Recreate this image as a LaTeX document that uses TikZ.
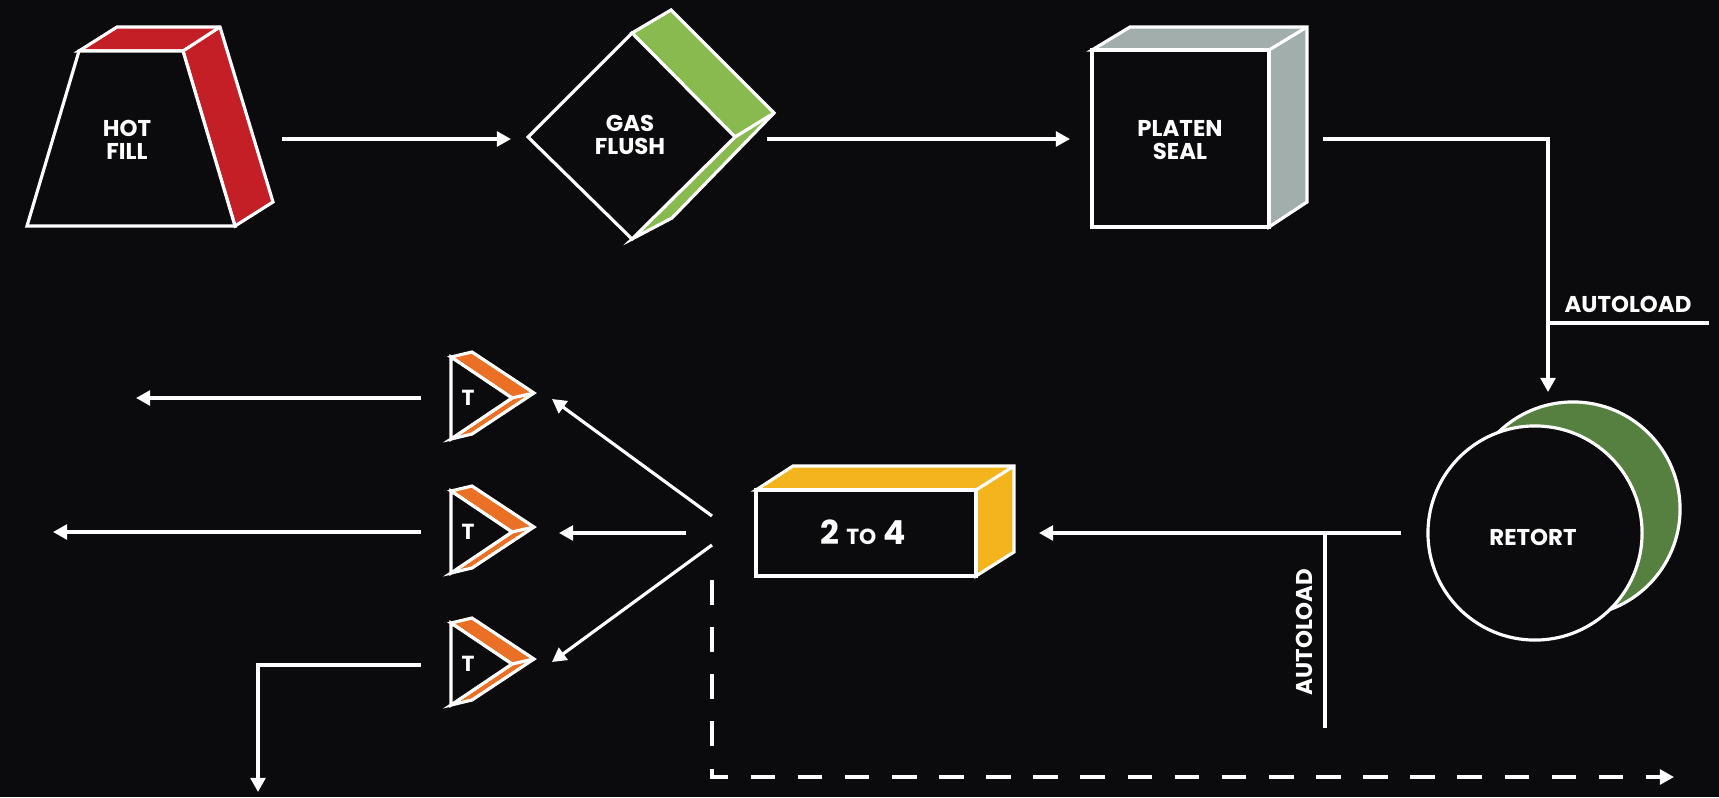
\documentclass[tikz,border=0pt]{standalone}
\usepackage{fontspec}
\setmainfont{Poppins}
\usepackage{xcolor}
\usetikzlibrary{arrows.meta}
\definecolor{bgblack}{RGB}{11,11,13}
\definecolor{fillred}{RGB}{196,31,38}
\definecolor{flushgreen}{RGB}{136,186,80}
\definecolor{sealgray}{RGB}{162,174,171}
\definecolor{retortgreen}{RGB}{86,128,63}
\definecolor{boxyellow}{RGB}{244,180,30}
\definecolor{temporange}{RGB}{234,112,37}

\begin{document}
\begin{tikzpicture}[x=0.01cm,y=-0.01cm,line width=0.9pt,
    >={Triangle[length=4pt,width=4.2pt]},
    lbl/.style={text=white,font=\bfseries\fontsize{6.5}{6.7}\selectfont,align=center,inner sep=0pt},
    face/.style={draw=white},
    flow/.style={->,white}]
  \fill[bgblack] (0,0) rectangle (1719,797);
  \useasboundingbox (0,0) rectangle (1719,797);

  % hot fill
  \filldraw[face,fill=fillred] (79,51) -- (117,27) -- (220,27) -- (273,202) -- (235,226) -- (183,51) -- cycle;
  \draw[face] (183,51) -- (220,27);
  \filldraw[face,fill=bgblack] (79,51) -- (183,51) -- (235,226) -- (27,226) -- cycle;
  \node[lbl] (hotfill) at (127,140) {HOT\\FILL};

  % gas flush
  \filldraw[face,fill=flushgreen] (632,33) -- (671,10) -- (774,113) -- (672,218) -- (632,239) -- (735,137) -- cycle;
  \draw[face] (735,137) -- (774,113);
  \filldraw[face,fill=bgblack] (528,137) -- (632,33) -- (735,137) -- (632,239) -- cycle;
  \node[lbl] (gasflush) at (630,135) {GAS\\FLUSH};

  % platen seal
  \filldraw[face,fill=sealgray] (1092,50) -- (1130,27) -- (1307,27) -- (1307,202) -- (1269,227) -- (1269,50) -- cycle;
  \draw[face] (1269,50) -- (1307,27);
  \filldraw[face,fill=bgblack] (1092,50) rectangle (1269,227);
  \node[lbl] (platenseal) at (1180,140) {PLATEN\\SEAL};

  % retort
  \filldraw[face,fill=retortgreen] (1573,509) circle[radius=1.07cm];
  \filldraw[face,fill=bgblack] (1535,533) circle[radius=1.07cm];
  \node[lbl] (retort) at (1533,537) {RETORT};

  % 2 to 4
  \filldraw[face,fill=boxyellow] (756,490) -- (793,466) -- (1014,466) -- (1014,552) -- (976,576) -- (976,490) -- cycle;
  \draw[face] (976,490) -- (1014,466);
  \filldraw[face,fill=bgblack] (756,490) rectangle (976,576);
  \node[lbl] (twotofour) at (863,532) {\fontsize{9.4}{10}\selectfont 2 {\fontsize{6.2}{7}\selectfont TO} 4};

  % three T units
  \foreach \c/\nm in {398/tempA,532/tempB,664/tempC}{
    \filldraw[face,fill=temporange] (451,\c-41) -- (472,\c-46) -- (534,\c-5) -- (472,\c+36) -- (451,\c+41) -- (512,\c) -- cycle;
    \draw[face] (512,\c) -- (534,\c-5);
    \filldraw[face,fill=bgblack] (451,\c-41) -- (512,\c) -- (451,\c+41) -- cycle;
    \node[lbl,font=\bfseries\fontsize{6.2}{7}\selectfont] (\nm) at (468,\c) {T};
  }

  % autoload labels
  \node[lbl] (autoloadA) at (1628,304) {AUTOLOAD};
  \node[lbl,rotate=90] (autoloadB) at (1304,632) {AUTOLOAD};

  % connector ends
  \coordinate (hf-e) at (282,139);
  \coordinate (gf-w) at (511,139);
  \coordinate (gf-e) at (767,139);
  \coordinate (ps-w) at (1070,139);
  \coordinate (ps-e) at (1323,139);
  \coordinate (rt-n) at (1548,392);
  \coordinate (al-j) at (1548,323);
  \coordinate (al-a) at (1709,323);
  \coordinate (rt-w) at (1401,533);
  \coordinate (bx-e) at (1039,533);
  \coordinate (al-t) at (1325,533);
  \coordinate (al-b) at (1325,728);
  \coordinate (fan-u) at (712,516);
  \coordinate (fan-m) at (686,533);
  \coordinate (fan-l) at (712,545);
  \coordinate (ta-e) at (552,399);
  \coordinate (tb-e) at (559,533);
  \coordinate (tc-e) at (552,662);
  \coordinate (ta-w) at (421,398);
  \coordinate (tb-w) at (421,532);
  \coordinate (tc-w) at (421,665);
  \coordinate (out-a) at (136,398);
  \coordinate (out-b) at (53,532);
  \coordinate (out-c) at (258,792);
  \coordinate (dash-s) at (712,580);
  \coordinate (dash-e) at (1674,777);

  % flow lines
  \draw[flow] (hf-e) -- (gf-w);
  \draw[flow] (gf-e) -- (ps-w);
  \draw[flow] (ps-e) -| (rt-n);
  \draw[white] (al-j) -- (al-a);
  \draw[flow] (rt-w) -- (bx-e);
  \draw[white] (al-t) -- (al-b);
  \draw[flow] (fan-u) -- (ta-e);
  \draw[flow] (fan-m) -- (tb-e);
  \draw[flow] (fan-l) -- (tc-e);
  \draw[flow] (ta-w) -- (out-a);
  \draw[flow] (tb-w) -- (out-b);
  \draw[flow] (tc-w) -| (out-c);
  \draw[flow,dash pattern=on 7pt off 6.4pt] (dash-s) |- (dash-e);
\end{tikzpicture}
\end{document}
